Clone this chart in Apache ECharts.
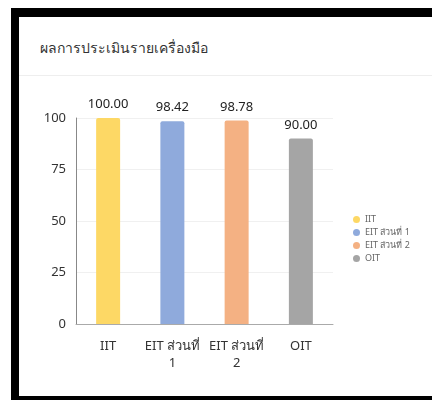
<!DOCTYPE html>
<html>
<head>
<meta charset="utf-8">
<script src="https://cdn.jsdelivr.net/npm/echarts@6/dist/echarts.min.js"></script>
<style>
  html, body { margin: 0; padding: 0; background: #fff; overflow: hidden; }
  .card { position: fixed; left: 11px; top: 8px; width: 440px; height: 379px; background: #fff;
          border-left: 8px solid #000; border-top: 9px solid #000; border-bottom: 5px solid #000; }
  .head { position: absolute; left: 0; top: 0; right: 0; height: 58px; border-bottom: 1px solid #eee;
          font-family: "Noto Sans", "DejaVu Sans", sans-serif; }
  .head span { position: absolute; left: 21px; top: 20px; font-size: 14px; color: #333; }
  #chart { position: absolute; left: 0; top: 59px; width: 413px; height: 320px; }
</style>
</head>
<body>
<div class="card">
  <div class="head"><span>ผลการประเมินรายเครื่องมือ</span></div>
  <div id="chart"></div>
</div>
<script>
  // values
  const categories = ['IIT', 'EIT ส่วนที่ 1', 'EIT ส่วนที่ 2', 'OIT'];
  const scores = [100, 98.42, 98.78, 90];
  const colors = ['#fdd865', '#8faadc', '#f4b183', '#a5a5a5'];
  const yTicks = [0, 25, 50, 75, 100];

  const font = '"Noto Sans", "DejaVu Sans", sans-serif';
  const chart = echarts.init(document.getElementById('chart'));

  // one series per category so each one gets a legend entry
  const series = categories.map((name, i) => ({
    name: name,
    type: 'bar',
    stack: 'all',
    barWidth: 24,
    data: scores.map((v, j) => (j === i ? v : '-')),
    itemStyle: { color: colors[i], borderRadius: [2, 2, 0, 0] },
    label: {
      show: true,
      position: 'top',
      distance: 7,
      fontFamily: font,
      fontSize: 13,
      color: '#222',
      formatter: p => p.value.toFixed(2)
    }
  }));

  chart.setOption({
    animation: false,
    textStyle: { fontFamily: font },
    grid: { left: 57, top: 42, right: 99, bottom: 72 },
    legend: {
      orient: 'vertical',
      left: 329,
      top: 134,
      icon: 'circle',
      itemWidth: 7,
      itemHeight: 7,
      itemGap: 4,
      textStyle: { fontSize: 9, color: '#666', lineHeight: 8, fontFamily: font },
      data: categories
    },
    xAxis: {
      type: 'category',
      data: categories,
      axisTick: { show: false },
      axisLine: { lineStyle: { color: '#aaa' } },
      axisLabel: {
        margin: 14,
        fontSize: 13,
        color: '#333',
        lineHeight: 17,
        interval: 0,
        formatter: v => v.replace(/ (\d)$/, '\n$1')
      }
    },
    yAxis: {
      type: 'value',
      min: yTicks[0],
      max: yTicks[yTicks.length - 1],
      interval: 25,
      axisLine: { show: true, lineStyle: { color: '#888' } },
      axisTick: { show: false },
      axisLabel: { margin: 10, fontSize: 13, color: '#333' },
      splitLine: { lineStyle: { color: '#f0f0f0' } }
    },
    series: series
  });
</script>
</body>
</html>
